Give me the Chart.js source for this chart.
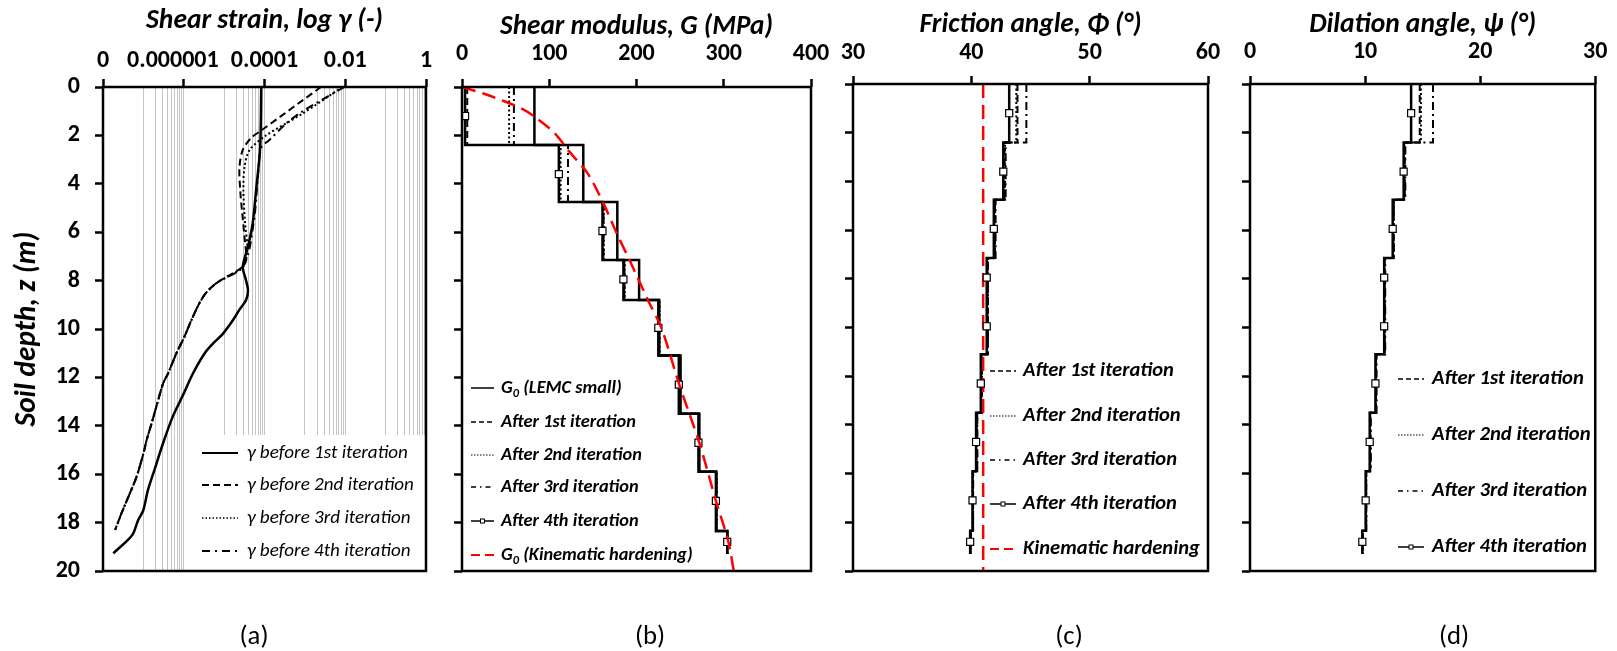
<!DOCTYPE html>
<html><head><meta charset="utf-8">
<script src="https://cdn.jsdelivr.net/npm/chart.js@4.4.1/dist/chart.umd.min.js"></script>
<style>
html,body{margin:0;padding:0;background:#fff;}
body{width:1617px;height:651px;position:relative;overflow:hidden;}
canvas{position:absolute;left:0;top:0;}
.lab{position:absolute;font-family:Carlito,Lato,"Noto Sans",sans-serif;color:#000;transform:translate(-50%,-50%);white-space:nowrap;}
</style></head>
<body>
<canvas id="ca" width="1617" height="651"></canvas>
<canvas id="cb" width="1617" height="651"></canvas>
<canvas id="cc" width="1617" height="651"></canvas>
<canvas id="cd" width="1617" height="651"></canvas>
<div class="lab" style="left:254px;top:635px">(a)</div>
<div class="lab" style="left:650px;top:635px">(b)</div>
<div class="lab" style="left:1069px;top:635px">(c)</div>
<div class="lab" style="left:1454px;top:635px">(d)</div>
<script>
// ---------------- DATA ----------------
// Panel (a): shear strain profiles (depth in m, strain in -)
const gamma1Depth = [0, 2.5, 4.26, 5.63, 6.6, 7.42, 8.0, 8.4, 8.8, 9.2, 9.63, 10.2, 10.6, 11.0, 11.83, 12.73, 13.6, 14.7, 15.8, 16.65, 17.5, 17.9, 18.45, 18.7, 19.27];
const gamma1 = [8.3e-5, 7.8e-5, 6.2e-5, 5.1e-5, 3.9e-5, 2.9e-5, 3.5e-5, 3.9e-5, 3.5e-5, 2.4e-5, 1.66e-5, 9.3e-6, 5.3e-6, 3.3e-6, 1.7e-6, 9.6e-7, 5.4e-7, 3.1e-7, 1.9e-7, 1.3e-7, 9.9e-8, 7.4e-8, 5.6e-8, 4.2e-8, 1.8e-8];
const gamma2Depth = [0, 1.8, 2.1, 2.6, 3.3, 4.25, 5.2, 6.2, 7.0, 7.4];
const gamma2 = [2.5e-3, 8.3e-5, 4.7e-5, 2.9e-5, 2.4e-5, 2.5e-5, 2.8e-5, 3.2e-5, 3.5e-5, 3.0e-5];
const gamma3Depth = [0, 1.1, 2.0, 2.6, 3.3, 4.3, 5.6, 6.6, 7.4];
const gamma3 = [8.5e-3, 8.7e-4, 1.1e-4, 4.3e-5, 3.2e-5, 3.0e-5, 3.3e-5, 3.7e-5, 3.0e-5];
const gamma4Depth = [0, 1.0, 1.5, 2.2, 2.5, 3.8, 5.6, 7.4];
const gamma4 = [9.5e-3, 8.9e-4, 3.5e-4, 1.3e-4, 8.3e-5, 6.8e-5, 5.4e-5, 3.0e-5];
// shared lower branch of the 2nd, 3rd and 4th strain profiles
const gammaLowDepth = [8.1, 8.5, 8.9, 9.63, 10.3, 11.0, 11.83, 12.24, 13.2, 13.9, 14.6, 15.15, 16.1, 16.8, 17.6, 18.3];
const gammaLow = [6.5e-6, 3.6e-6, 2.5e-6, 1.55e-6, 1.05e-6, 6.6e-7, 4.1e-7, 3.1e-7, 2.1e-7, 1.6e-7, 1.2e-7, 1.0e-7, 6.8e-8, 4.6e-8, 2.9e-8, 2.0e-8];
const strainMajorTicks = [1e-8, 1e-6, 1e-4, 1e-2, 1];
const strainTickLabels = ['0', '0.000001', '0.0001', '0.01', '1'];
const strainGridDecades = [1e-7, 1e-5, 1e-3, 1e-1];
const strainGridMultipliers = [1, 2, 3, 4, 5, 6, 7, 8, 9, 10];

// Layered soil profile (layer boundaries, m) and marker depths
const layerDepths = [0, 2.4, 4.75, 7.15, 8.8, 11.1, 13.5, 15.9, 18.35, 19.3];
const markerDepths = [1.2, 3.6, 5.95, 7.95, 9.95, 12.3, 14.7, 17.1, 18.8];

// Panel (b): shear modulus per layer (MPa)
const G0Lemc = [83, 139, 178, 203, 226, 250.5, 272, 291.5, 304];
const G1 = [6, 111.5, 162, 186, 226, 249, 271.5, 291.5, 304];
const G2 = [54, 113, 162.5, 186.5, 226.5, 249.5, 272, 292, 304];
const G3 = [59.5, 121.5, 162, 186, 226, 249, 271.5, 291.5, 304];
const G4 = [3.5, 111, 161, 185, 225, 248.5, 271, 291, 304];
const kinGDepth = [0, 0.3, 0.6, 0.88, 1.22, 1.9, 2.67, 3.57, 4.8, 6.1, 7.15, 8.8, 10.0, 12.3, 14.7, 17.1, 18.75, 20];
const kinG = [0, 27, 49, 68, 83, 106, 123, 144, 162, 178, 192, 213, 229, 249, 272, 291, 305, 311.5];

// Panel (c): friction angle per layer (deg)
const phi1 = [43.9, 42.8, 42.0, 41.4, 41.4, 40.9, 40.5, 40.15, 39.95];
const phi2 = [43.8, 42.85, 42.0, 41.4, 41.35, 40.85, 40.45, 40.1, 39.9];
const phi3 = [44.65, 42.9, 42.05, 41.4, 41.4, 40.9, 40.5, 40.15, 39.95];
const phi4 = [43.2, 42.7, 41.9, 41.3, 41.3, 40.8, 40.4, 40.1, 39.9];
const kinPhiDepth = [0, 20];
const kinPhi = [41.0, 41.0];

// Panel (d): dilation angle per layer (deg)
const psi1 = [14.75, 13.45, 12.5, 11.7, 11.7, 10.95, 10.45, 10.1, 9.8];
const psi2 = [14.85, 13.4, 12.45, 11.7, 11.7, 10.95, 10.45, 10.1, 9.8];
const psi3 = [15.9, 13.5, 12.5, 11.75, 11.75, 11.0, 10.5, 10.1, 9.8];
const psi4 = [14.0, 13.35, 12.4, 11.66, 11.66, 10.9, 10.4, 10.05, 9.76];

// ---------------- HELPERS ----------------
const W = 1617, H = 651;
const FAM = 'Carlito, Lato, "Noto Sans", "DejaVu Sans", sans-serif';
const mctx = document.createElement('canvas').getContext('2d');
function fitSize(text, weight, style, target) {
  mctx.font = style + ' ' + weight + ' 100px ' + FAM;
  return 100 * target / mctx.measureText(text).width;
}
const WB = 'bold';
const tickSize = fitSize('0.0001', WB, 'normal', 67.3);
const tickFont = {family: FAM, size: tickSize, weight: WB};
const tFont = (txt, target) => ({family: FAM, size: fitSize(txt, WB, 'italic', target), weight: WB, style: 'italic'});
const labSize = fitSize('(a)', 'normal', 'normal', 29);
document.querySelectorAll('.lab').forEach(d => { d.style.fontSize = labSize + 'px'; });

function profile(depths, vals) { return vals.map((v, i) => ({x: v, y: depths[i]})); }
function steps(vals, withMarkers) {
  const pts = [];
  vals.forEach((v, i) => {
    pts.push({x: v, y: layerDepths[i]});
    if (withMarkers) pts.push({x: v, y: markerDepths[i], m: true});
    pts.push({x: v, y: layerDepths[i + 1]});
  });
  return pts;
}
const ST = {
  solid: {borderWidth: 2.5},
  dashed: {borderWidth: 2, borderDash: [7, 4]},
  dotted: {borderWidth: 2, borderDash: [2, 2.5]},
  dashdot: {borderWidth: 2, borderDash: [8, 4, 2, 4]},
  marked: {borderWidth: 2.5, pointStyle: 'rect', pointRadius: c => (c.raw && c.raw.m ? 5 : 0), pointBorderColor: '#000', pointBackgroundColor: '#fff', pointBorderWidth: 1.2},
  red: {borderWidth: 2.5, borderColor: '#ff0000', borderDash: [14, 7]}
};
function ds(label, data, style, extra) {
  return Object.assign({label, data, showLine: true, fill: false, borderColor: '#000', backgroundColor: '#fff', pointRadius: 0, pointHoverRadius: 0, tension: 0}, style, extra || {});
}
const framePlugin = {
  id: 'frame',
  afterDraw(chart) {
    const {left, top, right, bottom} = chart.chartArea;
    const c = chart.ctx; c.save(); c.strokeStyle = '#000'; c.lineWidth = 2.5; c.setLineDash([]);
    c.strokeRect(left, top, right - left, bottom - top); c.restore();
  }
};
function makeLegend(cfg) {
  const size = fitSize(cfg.ref, cfg.weight, 'italic', cfg.refW);
  const font = 'italic ' + cfg.weight + ' ' + size + 'px ' + FAM;
  const subFont = 'italic ' + cfg.weight + ' ' + (size * 0.68) + 'px ' + FAM;
  return {
    id: 'panelLegend',
    afterDatasetsDraw(chart) {
      const c = chart.ctx; c.save();
      if (cfg.bg) { c.fillStyle = '#fff'; c.fillRect(cfg.bg[0], cfg.bg[1], cfg.bg[2] - cfg.bg[0], cfg.bg[3] - cfg.bg[1]); }
      cfg.items.forEach((it, i) => {
        const y = cfg.ys[i];
        c.beginPath(); c.setLineDash(it.dash || []); c.strokeStyle = it.color || '#000'; c.lineWidth = it.width || 1.5;
        c.moveTo(cfg.x0, y); c.lineTo(cfg.x1, y); c.stroke(); c.setLineDash([]);
        if (it.marker) {
          const mx = (cfg.x0 + cfg.x1) / 2, s = 4;
          c.fillStyle = '#fff'; c.fillRect(mx - s / 2, y - s / 2, s, s);
          c.lineWidth = 1; c.strokeStyle = '#000'; c.strokeRect(mx - s / 2, y - s / 2, s, s);
        }
        c.fillStyle = '#000'; c.textBaseline = 'middle'; c.textAlign = 'left'; c.font = font;
        let x = cfg.tx;
        if (it.sub) {
          c.fillText(it.main, x, y); x += c.measureText(it.main).width;
          c.font = subFont; c.fillText(it.sub, x, y + size * 0.3); x += c.measureText(it.sub).width;
          c.font = font; c.fillText(it.rest, x, y);
        } else {
          c.fillText(it.text, x, y);
        }
      });
      c.restore();
    }
  };
}
const yBase = (area, showLabels) => ({
  type: 'linear', reverse: true, min: 0, max: 20,
  afterFit: s => { s.width = area.l; },
  ticks: {stepSize: 2, font: tickFont, color: '#000', padding: 15, callback: v => (showLabels ? String(v) : '')},
  grid: {drawOnChartArea: false, drawTicks: true, tickLength: 8, tickWidth: 2.5, tickColor: '#000', color: '#000'},
  border: {display: false}
});
function xTitle(text, font, centerY) {
  return {display: true, text, font, color: '#000', padding: {top: centerY - font.size * 0.6, bottom: 0}};
}
function xLinear(area, min, max, step, title, titleW, titleY, labelY) {
  return {
    type: 'linear', position: 'top', min, max,
    afterFit: s => { s.height = area.t; },
    ticks: {stepSize: step, font: tickFont, color: '#000', padding: area.t - 8 - tickSize * 0.6 - labelY, maxRotation: 0, minRotation: 0, autoSkip: false},
    grid: {drawOnChartArea: false, tickLength: 8, tickWidth: 2.5, tickColor: '#000', color: '#000'},
    border: {display: false},
    title: xTitle(title, tFont(title, titleW), titleY)
  };
}
function makeChart(id, area, xScale, yScale, datasets, legendCfg) {
  return new Chart(document.getElementById(id), {
    type: 'scatter',
    data: {datasets},
    options: {
      responsive: false, animation: false, devicePixelRatio: 1, events: [],
      layout: {padding: {left: 0, top: 0, right: W - area.r, bottom: H - area.b}},
      plugins: {legend: {display: false}, tooltip: {enabled: false}},
      scales: {x: xScale, y: yScale}
    },
    plugins: [makeLegend(legendCfg), framePlugin]
  });
}
const isMajor = v => strainMajorTicks.some(m => Math.abs(Math.log10(v) - Math.log10(m)) < 1e-6);
const strainGrid = [];
strainGridDecades.forEach(d => strainGridMultipliers.forEach(k => strainGrid.push(k * d)));

// ---------------- PANEL (a) ----------------
const areaA = {l: 103, t: 87, r: 426, b: 571};
const yTitleA = 'Soil depth, z (m)';
const yTitleFont = tFont(yTitleA, 195);
makeChart('ca', areaA, {
  type: 'logarithmic', position: 'top', min: 1e-8, max: 1,
  afterFit: s => { s.height = areaA.t; },
  afterBuildTicks: s => {
    const vals = Array.from(new Set(strainMajorTicks.concat(strainGrid))).sort((p, q) => p - q);
    s.ticks = vals.map(v => ({value: v, major: isMajor(v)}));
  },
  ticks: {font: tickFont, color: '#000', padding: areaA.t - 8 - tickSize * 0.6 - 61, maxRotation: 0, minRotation: 0, autoSkip: false,
    callback: v => {
      const i = strainMajorTicks.findIndex(m => Math.abs(Math.log10(v) - Math.log10(m)) < 1e-6);
      if (i < 0) return '';
      return i === 1 ? strainTickLabels[i] + '    ' : strainTickLabels[i];
    }},
  grid: {drawOnChartArea: true, lineWidth: 1, color: '#c4c4c4', tickLength: 8, tickWidth: 2.5,
    tickColor: c => (c.tick && isMajor(c.tick.value) ? '#000' : 'rgba(0,0,0,0)')},
  border: {display: false},
  title: xTitle('Shear strain, log γ (-)', tFont('Shear strain, log γ (-)', 237), 21)
}, Object.assign(yBase(areaA, true), {
  title: {display: true, text: yTitleA, font: yTitleFont, color: '#000', padding: {top: 28 - yTitleFont.size * 0.6, bottom: 0}}
}), [
  ds('γ before 1st iteration', profile(gamma1Depth, gamma1), ST.solid, {tension: 0.3}),
  ds('γ before 2nd iteration', profile(gamma2Depth.concat(gammaLowDepth), gamma2.concat(gammaLow)), ST.dashed, {tension: 0.3}),
  ds('γ before 3rd iteration', profile(gamma3Depth.concat(gammaLowDepth), gamma3.concat(gammaLow)), ST.dotted, {tension: 0.3}),
  ds('γ before 4th iteration', profile(gamma4Depth.concat(gammaLowDepth), gamma4.concat(gammaLow)), ST.dashdot, {tension: 0.3})
], {
  bg: [190, 435, 426, 571], x0: 202, x1: 238, tx: 247, ys: [453, 485, 518, 551],
  weight: 'normal', ref: 'γ before 1st iteration', refW: 161,
  items: [
    {text: 'γ before 1st iteration', width: 2},
    {text: 'γ before 2nd iteration', dash: [7, 4], width: 2},
    {text: 'γ before 3rd iteration', dash: [1.5, 2], width: 1.5},
    {text: 'γ before 4th iteration', dash: [8, 5, 2, 5], width: 2}
  ]
});

// ---------------- PANEL (b) ----------------
const areaB = {l: 462, t: 87, r: 811, b: 571};
makeChart('cb', areaB, xLinear(areaB, 0, 400, 100, 'Shear modulus, G (MPa)', 273, 27, 54), yBase(areaB, false), [
  ds('G0 (Kinematic hardening)', profile(kinGDepth, kinG), ST.red, {tension: 0.3}),
  ds('After 4th iteration', steps(G4, true), ST.marked),
  ds('G0 (LEMC small)', steps(G0Lemc, false), ST.solid),
  ds('After 1st iteration', steps(G1, false), ST.dashed),
  ds('After 2nd iteration', steps(G2, false), ST.dotted),
  ds('After 3rd iteration', steps(G3, false), ST.dashdot)
], {
  x0: 471, x1: 494, tx: 501, ys: [388, 422, 455, 487, 521, 555],
  weight: 'bold', ref: 'After 1st iteration', refW: 135,
  items: [
    {main: 'G', sub: '0', rest: ' (LEMC small)', width: 1.5},
    {text: 'After 1st iteration', dash: [5, 3], width: 1.5},
    {text: 'After 2nd iteration', dash: [1.5, 1.5], width: 1.2},
    {text: 'After 3rd iteration', dash: [5, 4, 1.5, 4], width: 1.5},
    {text: 'After 4th iteration', width: 1.5, marker: true},
    {main: 'G', sub: '0', rest: ' (Kinematic hardening)', dash: [9, 5], color: '#ff0000', width: 2}
  ]
});

// ---------------- PANEL (c) ----------------
const areaC = {l: 853, t: 84, r: 1208, b: 571};
makeChart('cc', areaC, xLinear(areaC, 30, 60, 10, 'Friction angle, Φ (°)', 222, 25, 53), yBase(areaC, false), [
  ds('After 4th iteration', steps(phi4, true), ST.marked),
  ds('Kinematic hardening', profile(kinPhiDepth, kinPhi), ST.red),
  ds('After 1st iteration', steps(phi1, false), ST.dashed),
  ds('After 2nd iteration', steps(phi2, false), ST.dotted),
  ds('After 3rd iteration', steps(phi3, false), ST.dashdot)
], {
  x0: 990, x1: 1016, tx: 1023, ys: [371, 416, 460, 504, 549],
  weight: 'bold', ref: 'After 1st iteration', refW: 151,
  items: [
    {text: 'After 1st iteration', dash: [5, 3], width: 1.5},
    {text: 'After 2nd iteration', dash: [1.5, 1.5], width: 1.2},
    {text: 'After 3rd iteration', dash: [5, 4, 1.5, 4], width: 1.5},
    {text: 'After 4th iteration', width: 1.5, marker: true},
    {text: 'Kinematic hardening', dash: [9, 5], color: '#ff0000', width: 2}
  ]
});

// ---------------- PANEL (d) ----------------
const areaD = {l: 1250, t: 84, r: 1598, b: 571};
makeChart('cd', areaD, xLinear(areaD, 0, 30, 10, 'Dilation angle, ψ (°)', 227, 25, 52), yBase(areaD, false), [
  ds('After 4th iteration', steps(psi4, true), ST.marked),
  ds('After 1st iteration', steps(psi1, false), ST.dashed),
  ds('After 2nd iteration', steps(psi2, false), ST.dotted),
  ds('After 3rd iteration', steps(psi3, false), ST.dashdot)
], {
  x0: 1398, x1: 1424, tx: 1432, ys: [379, 435, 491, 547],
  weight: 'bold', ref: 'After 1st iteration', refW: 152,
  items: [
    {text: 'After 1st iteration', dash: [5, 3], width: 1.5},
    {text: 'After 2nd iteration', dash: [1.5, 1.5], width: 1.2},
    {text: 'After 3rd iteration', dash: [5, 4, 1.5, 4], width: 1.5},
    {text: 'After 4th iteration', width: 1.5, marker: true}
  ]
});
</script>
</body></html>
